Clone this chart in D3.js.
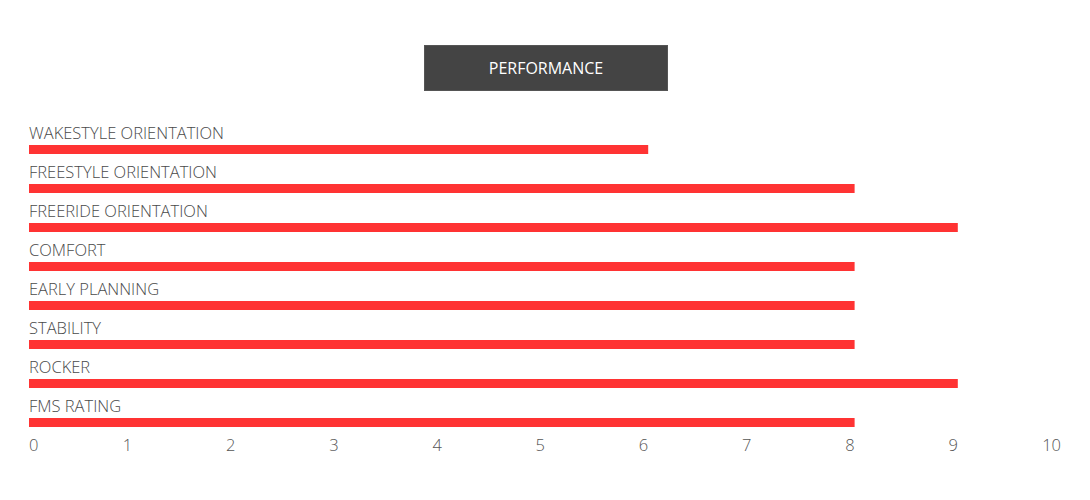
<!DOCTYPE html>
<html>
<head>
<meta charset="utf-8">
<script src="https://cdn.jsdelivr.net/npm/d3@7"></script>
<style>
  body { margin: 0; background: #fff; }
  svg text { font-family: "Open Sans", sans-serif; }
</style>
</head>
<body>
<div id="chart"></div>
<script>
// Performance ratings, horizontal bars with labels above each bar
const categories = ['WAKESTYLE ORIENTATION', 'FREESTYLE ORIENTATION', 'FREERIDE ORIENTATION', 'COMFORT',
    'EARLY PLANNING', 'STABILITY', 'ROCKER', 'FMS RATING'];
const values = [6, 8, 9, 8, 8, 8, 9, 8];
const ticks = [0, 1, 2, 3, 4, 5, 6, 7, 8, 9, 10];
const title = 'PERFORMANCE';

const width = 1090;
const height = 500;

const svg = d3.select('#chart').append('svg')
    .attr('width', width)
    .attr('height', height);

// Title box
const titleG = svg.append('g');
titleG.append('rect')
    .attr('x', 424.5).attr('y', 45.5)
    .attr('width', 243).attr('height', 45)
    .attr('fill', '#444')
    .attr('stroke', '#555');
titleG.append('text')
    .attr('x', 546).attr('y', 74)
    .attr('text-anchor', 'middle')
    .attr('fill', '#fff')
    .attr('font-size', 16)
    .text(title);

const x = d3.scaleLinear().domain([0, 10]).range([29, 1061]);
const y = d3.scaleBand().domain(categories).range([145, 457]).paddingInner(0);

const rows = svg.append('g').selectAll('g').data(categories).enter().append('g')
    .attr('transform', d => `translate(0,${y(d)})`);

rows.append('rect')
    .attr('x', x(0))
    .attr('y', 0)
    .attr('height', 9)
    .attr('width', (d, i) => x(values[i]) - x(0))
    .attr('fill', '#ff3333');

rows.append('text')
    .attr('x', x(0))
    .attr('y', -6)
    .attr('fill', '#4a4a4a')
    .attr('font-size', 16.5)
    .attr('font-weight', 300)
    .text(d => d);

// Value axis labels
svg.append('g').selectAll('text').data(ticks).enter().append('text')
    .attr('x', d => x(d))
    .attr('y', 451)
    .attr('text-anchor', d => d === 0 ? 'start' : 'end')
    .attr('fill', '#555')
    .attr('font-size', 16.5)
    .attr('font-weight', 300)
    .text(d => d);
</script>
</body>
</html>
